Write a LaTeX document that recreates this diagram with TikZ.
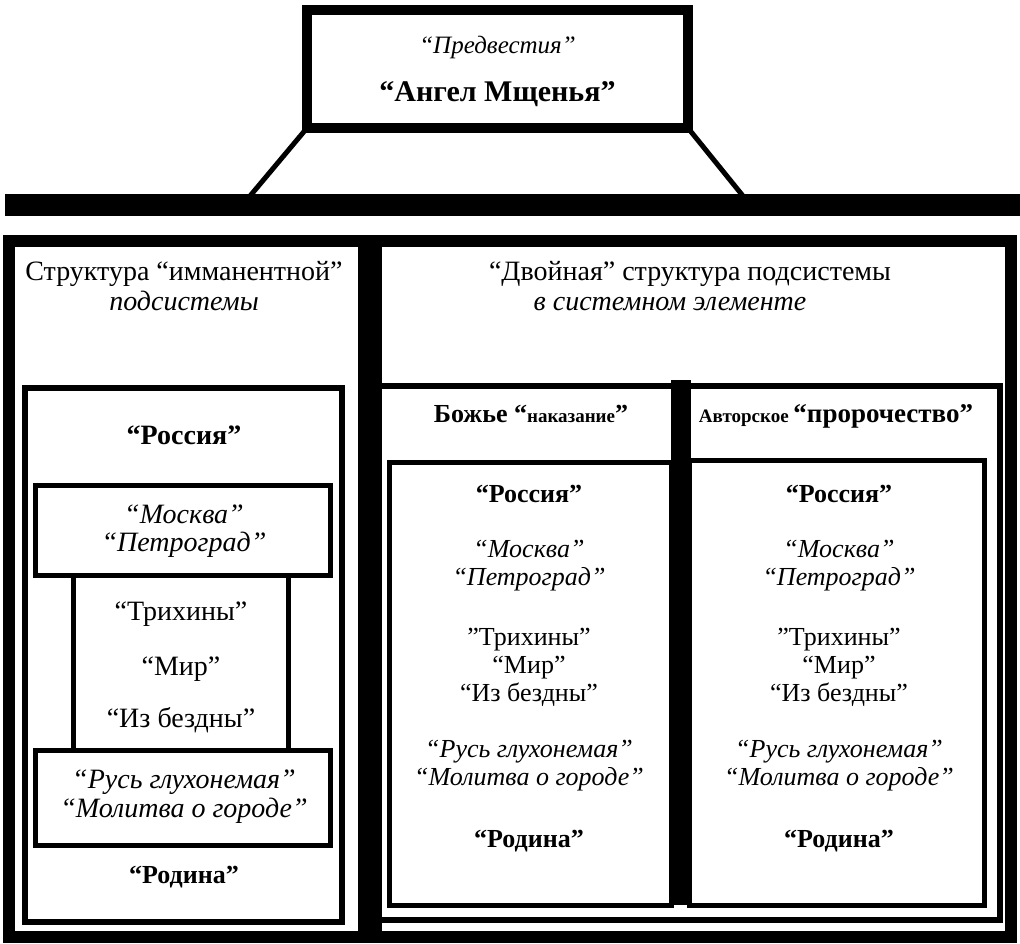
\documentclass[tikz,border=0pt]{standalone}
\usepackage{fontspec}
\setmainfont{Liberation Serif}
\newcommand{\fsz}[1]{\fontsize{#1}{#1}\selectfont}
\begin{document}
\begin{tikzpicture}[x=1pt,y=-1pt,
  box/.style={draw, inner sep=0pt, outer sep=0pt, line width=#1},
  slab/.style={fill=black, draw=none, inner sep=0pt, outer sep=0pt},
  leg/.style={line width=5pt},
  t/.style={anchor=base, inner sep=0pt, outer sep=0pt},
  hdr/.style={t, font=\fsz{28}},
  hdri/.style={t, font=\fsz{28}\itshape},
  it/.style={t, font=\fsz{26}\itshape},
  rm/.style={t, font=\fsz{26}},
  bf/.style={t, font=\fsz{26}\bfseries},
  itL/.style={t, font=\fsz{28}\itshape},
  rmL/.style={t, font=\fsz{28}},
  bfL/.style={t, font=\fsz{28}\bfseries}]
\useasboundingbox (0,0) rectangle (1020,943);
% top box and bar
\node[box=10pt, minimum width=381pt, minimum height=118pt] (topbox) at (497.5,69) {};
\node[slab, minimum width=1015pt, minimum height=22pt] (bar) at (512.5,205) {};
\coordinate (footL) at (250,196);
\coordinate (footR) at (743,196);
\draw[leg] (topbox.south west) -- (footL);
\draw[leg] (topbox.south east) -- (footR);
\node[t, font=\fsz{25}\itshape] (pred) at (497.5,53) {“Предвестия”};
\node[t, font=\fsz{30}\bfseries] (angel) at (497.5,101) {“Ангел Мщенья”};
% outer frame and divider
\node[box=12pt, minimum width=1002pt, minimum height=696pt] (frame) at (510,589) {};
\node[slab, minimum width=24pt, minimum height=702pt] (div) at (370,589) {};
% headers
\node[hdr] (lh1) at (184,280) {Структура “имманентной”};
\node[hdri] (lh2) at (184,310) {подсистемы};
\node[hdr] (rh1) at (690,280) {“Двойная” структура подсистемы};
\node[hdri] (rh2) at (670,310) {в системном элементе};
% left panel
\node[box=6pt, minimum width=317pt, minimum height=534pt] (lbox) at (183.5,655) {};
\node[box=5pt, minimum width=295pt, minimum height=90pt] (mbox) at (183,530.5) {};
\node[box=5pt, minimum width=215pt, minimum height=175pt] (tbox) at (180.5,663) {};
\node[box=5pt, minimum width=295pt, minimum height=95pt] (rbox) at (183,798) {};
\node[bfL] (l1) at (184,444) {“Россия”};
\node[itL] (l2) at (184,523) {“Москва”};
\node[itL] (l3) at (184,551) {“Петроград”};
\node[rmL] (l4) at (181,620) {“Трихины”};
\node[rmL] (l5) at (181,675) {“Мир”};
\node[rmL] (l6) at (181,727) {“Из бездны”};
\node[itL] (l7) at (184,788) {“Русь глухонемая”};
\node[itL] (l8) at (184,817) {“Молитва о городе”};
\node[bf] (l9) at (184,883) {“Родина”};
% right panel
\node[box=6pt, minimum width=621pt, minimum height=534pt] (rframe) at (689.5,653) {};
\node[box=5pt, minimum width=281.5pt, minimum height=443pt] (cbl) at (530.25,684) {};
\node[box=5pt, minimum width=295.5pt, minimum height=445pt] (cbr) at (836.75,683) {};
\node[slab, minimum width=20pt, minimum height=525pt] (cdiv) at (681,642.5) {};
\node[t, font=\bfseries] (chl) at (531,422) {\fsz{26}Божье “\fsz{19}наказание\fsz{26}”};
\node[t, font=\bfseries] (chr) at (836,422) {\fsz{19}Авторское \fsz{27}“пророчество”};
\foreach \c/\n in {529/a,839/b}{
  \node[bf] (r1\n) at (\c,502) {“Россия”};
  \node[it] (r2\n) at (\c,557) {“Москва”};
  \node[it] (r3\n) at (\c,585) {“Петроград”};
  \node[rm] (r4\n) at (\c,645) {"Трихины”};
  \node[rm] (r5\n) at (\c,673) {“Мир”};
  \node[rm] (r6\n) at (\c,701) {“Из бездны”};
  \node[it] (r7\n) at (\c,757) {“Русь глухонемая”};
  \node[it] (r8\n) at (\c,785) {“Молитва о городе”};
  \node[bf] (r9\n) at (\c,847) {“Родина”};
}
\end{tikzpicture}
\end{document}
